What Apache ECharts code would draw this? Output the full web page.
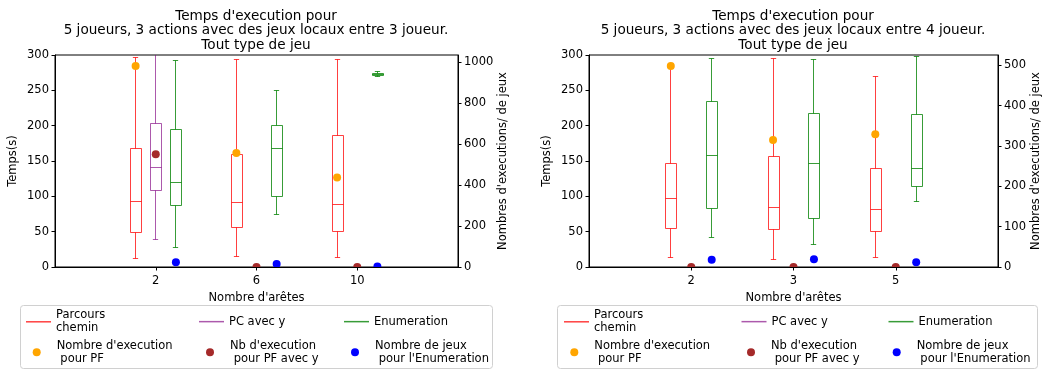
<!DOCTYPE html>
<html>
<head>
<meta charset="utf-8">
<script src="https://cdn.jsdelivr.net/npm/echarts@6.0.0/dist/echarts.min.js"></script>
<style>
html,body{margin:0;padding:0;background:#fff;}
#chart{width:1051px;height:371px;}
</style>
</head>
<body>
<div id="chart"></div>
<script>
// ---------- DATA ----------
const titleLeft = "Temps d'execution pour\n5 joueurs, 3 actions avec des jeux locaux entre 3 joueur.\nTout type de jeu";
const titleRight = "Temps d'execution pour\n5 joueurs, 3 actions avec des jeux locaux entre 4 joueur.\nTout type de jeu";
const categoriesLeft = ['2', '6', '10'];
const categoriesRight = ['2', '3', '5'];
// box stats: [low whisker, Q1, median, Q3, high whisker]
const parcoursLeft = [[11.8, 49.2, 93.2, 167, 297], [15.1, 56.3, 91.3, 159, 293], [13.7, 49.7, 89, 186, 293]];
const pcAvecYLeft = [[38.8, 108.4, 141.5, 202.6, 320], null, null];
const enumLeft = [[27, 87.1, 119.7, 194.5, 292], [73.8, 99.4, 167, 200.2, 249.4], [270, 271.2, 273, 274.5, 276]];
const nbExecPFLeft = [980, 556, 436];
const nbExecPFyLeft = [550, 0, 0];
const nbJeuxEnumLeft = [23, 15, 2];

const parcoursRight = [[12.8, 54.9, 96.5, 146.2, 285], [10.9, 53, 84.7, 157, 294.8], [13.7, 50.6, 81.4, 139.6, 270.2]];
const enumRight = [[42.1, 83.3, 157.6, 234.7, 294.8], [32.2, 68.1, 146.2, 216.7, 293], [93.2, 114.5, 138.7, 215.8, 297.7]];
const nbExecPFRight = [498, 315, 329];
const nbExecPFyRight = [0, 0, 0];
const nbJeuxEnumRight = [18, 19, 12];

const leftTicksTime = [0, 50, 100, 150, 200, 250, 300];
const leftTicksCount = [0, 200, 400, 600, 800, 1000];
const rightTicksCount = [0, 100, 200, 300, 400, 500];

const NAMES = {
  parcours: 'Parcours\nchemin',
  pc: 'PC avec y',
  enumr: 'Enumeration',
  pf: "Nombre d'execution\n pour PF",
  pfy: "Nb d'execution\n pour PF avec y",
  jeux: "Nombre de jeux\n pour l'Enumeration"
};
const COLORS = {
  parcours: 'rgba(255,0,0,0.75)',
  pc: 'rgba(128,0,128,0.65)',
  enumr: 'rgba(0,128,0,0.78)',
  pf: '#ffa500',
  pfy: '#a52a2a',
  jeux: '#0000ff'
};

// ---------- RENDERING ----------
const FONT = 'DejaVu Sans';
const FS = 11.5;
const OFFSET = 0.2;
const BOXW = 0.105;

function crisp(v) { return Math.round(v - 0.5) + 0.5; }

function boxRender(color) {
  return function (params, api) {
    const x = api.value(0);
    const pl = api.coord([x, api.value(1)]);
    const p1 = api.coord([x, api.value(2)]);
    const pm = api.coord([x, api.value(3)]);
    const p3 = api.coord([x, api.value(4)]);
    const ph = api.coord([x, api.value(5)]);
    const w = api.size([BOXW, 0])[0];
    const cx = crisp(pl[0]);
    const hw = w / 2, cw = w / 4;
    const st = { stroke: color, fill: null, lineWidth: 1 };
    const ln = (x1, y1, x2, y2) => ({ type: 'line', shape: { x1, y1, x2, y2 }, style: st });
    const yq1 = crisp(p1[1]), yq3 = crisp(p3[1]), ym = crisp(pm[1]), yl = crisp(pl[1]), yh = crisp(ph[1]);
    const bx = Math.round(cx - hw) + 0.5, bw = Math.round(w);
    return {
      type: 'group',
      children: [
        { type: 'rect', shape: { x: bx, y: yq3, width: bw, height: yq1 - yq3 }, style: st },
        ln(bx, ym, bx + bw, ym),
        ln(cx, yq3, cx, yh),
        ln(cx, yq1, cx, yl),
        ln(cx - cw, yh, cx + cw, yh),
        ln(cx - cw, yl, cx + cw, yl)
      ]
    };
  };
}

function dotRender(color) {
  return function (params, api) {
    const p = api.coord([api.value(0), api.value(1)]);
    return { type: 'circle', shape: { cx: p[0], cy: p[1], r: 4 }, style: { fill: color } };
  };
}

function boxData(stats, offset) {
  const out = [];
  stats.forEach((s, i) => { if (s) out.push([i + 1 + offset].concat(s)); });
  return out;
}
function dotData(vals, offset) {
  return vals.map((v, i) => [i + 1 + offset, v]);
}

function boxSeries(key, stats, offset, xi, yi) {
  return {
    type: 'custom', name: NAMES[key], xAxisIndex: xi, yAxisIndex: yi, clip: true,
    itemStyle: { color: COLORS[key] },
    encode: { x: 0, y: [1, 2, 3, 4, 5] },
    renderItem: boxRender(COLORS[key]),
    data: boxData(stats, offset), z: 3
  };
}
function dotSeries(key, vals, offset, xi, yi) {
  return {
    type: 'custom', name: NAMES[key], xAxisIndex: xi, yAxisIndex: yi, clip: true,
    itemStyle: { color: COLORS[key] },
    encode: { x: 0, y: 1 },
    renderItem: dotRender(COLORS[key]),
    data: dotData(vals, offset), z: 4
  };
}

const axisCommon = {
  axisLine: { show: true, onZero: false, lineStyle: { color: '#000', width: 1 } },
  axisTick: { show: true, length: 3.5, inside: false, lineStyle: { color: '#000', width: 1 } },
  axisLabel: { color: '#000', fontFamily: FONT, fontSize: FS },
  splitLine: { show: false },
  nameTextStyle: { color: '#000', fontFamily: FONT, fontSize: FS }
};

function xAxisDef(gridIndex, cats) {
  return Object.assign({}, axisCommon, {
    type: 'value', gridIndex, min: 0, max: 4,
    name: "Nombre d'arêtes", nameLocation: 'middle', nameGap: 21,
    axisTick: Object.assign({}, axisCommon.axisTick, { customValues: [1, 2, 3] }),
    axisLabel: Object.assign({}, axisCommon.axisLabel, {
      margin: 8, customValues: [1, 2, 3],
      formatter: v => cats[Math.round(v) - 1] || ''
    })
  });
}
function yTimeAxis(gridIndex) {
  return Object.assign({}, axisCommon, {
    type: 'value', gridIndex, position: 'left', min: 0, max: 300,
    name: 'Temps(s)', nameLocation: 'middle', nameGap: 36,
    axisTick: Object.assign({}, axisCommon.axisTick, { customValues: leftTicksTime }),
    axisLabel: Object.assign({}, axisCommon.axisLabel, { margin: 6, customValues: leftTicksTime, formatter: v => String(v) })
  });
}
function yCountAxis(gridIndex, max, ticks, gap) {
  return Object.assign({}, axisCommon, {
    type: 'value', gridIndex, position: 'right', min: 0, max,
    name: "Nombres d'executions/ de jeux", nameLocation: 'middle', nameGap: gap,
    axisTick: Object.assign({}, axisCommon.axisTick, { customValues: ticks }),
    axisLabel: Object.assign({}, axisCommon.axisLabel, { margin: 6, customValues: ticks, formatter: v => String(v) })
  });
}

const legendText = { color: '#000', fontFamily: FONT, fontSize: FS, lineHeight: 13.3 };
function lineLegend(key, left, top) {
  return {
    left, top, padding: 0, itemGap: 0, selectedMode: false, z: 10,
    itemWidth: 25, itemHeight: 1.5, textStyle: legendText,
    data: [{ name: NAMES[key], icon: 'rect', itemStyle: { color: COLORS[key], borderWidth: 0 } }]
  };
}
function dotLegend(key, center, top) {
  return {
    left: center - 4, top, padding: 0, itemGap: 0, selectedMode: false, z: 10,
    itemWidth: 30, itemHeight: 8, textStyle: legendText,
    data: [{ name: NAMES[key], icon: 'circle', itemStyle: { color: COLORS[key], borderWidth: 0 } }]
  };
}

const titleStyle = { fill: '#000', font: '13.6px "DejaVu Sans"', textAlign: 'center', lineHeight: 14.6 };

const option = {
  animation: false,
  backgroundColor: '#fff',
  grid: [
    { left: 55, top: 55, width: 403, height: 212, show: true, borderColor: '#000', borderWidth: 1, backgroundColor: 'transparent', outerBoundsMode: 'none', containLabel: false },
    { left: 589, top: 55, width: 409, height: 212, show: true, borderColor: '#000', borderWidth: 1, backgroundColor: 'transparent', outerBoundsMode: 'none', containLabel: false }
  ],
  xAxis: [xAxisDef(0, categoriesLeft), xAxisDef(1, categoriesRight)],
  yAxis: [
    yTimeAxis(0),
    yCountAxis(0, 1034, leftTicksCount, 38),
    yTimeAxis(1),
    yCountAxis(1, 525.5, rightTicksCount, 32)
  ],
  graphic: [
    { type: 'text', x: 256, y: 9, z: 1, style: Object.assign({ text: titleLeft }, titleStyle) },
    { type: 'text', x: 793, y: 9, z: 1, style: Object.assign({ text: titleRight }, titleStyle) },
    { type: 'rect', z: 0, shape: { x: 20.5, y: 305.5, width: 472, height: 63, r: 3 }, style: { fill: '#fff', stroke: '#d0d0d0', lineWidth: 1 } },
    { type: 'rect', z: 0, shape: { x: 557.5, y: 305.5, width: 480, height: 63, r: 3 }, style: { fill: '#fff', stroke: '#d0d0d0', lineWidth: 1 } }
  ],
  legend: [
    lineLegend('parcours', 26, 308.5), lineLegend('pc', 199, 315), lineLegend('enumr', 344, 315),
    dotLegend('pf', 36.7, 339), dotLegend('pfy', 210, 339), dotLegend('jeux', 355, 339),
    lineLegend('parcours', 564, 308.5), lineLegend('pc', 741.5, 315), lineLegend('enumr', 888.5, 315),
    dotLegend('pf', 574.3, 339), dotLegend('pfy', 751, 339), dotLegend('jeux', 896.7, 339)
  ],
  series: [
    boxSeries('parcours', parcoursLeft, -OFFSET, 0, 0),
    boxSeries('pc', pcAvecYLeft, 0, 0, 0),
    boxSeries('enumr', enumLeft, OFFSET, 0, 0),
    dotSeries('pf', nbExecPFLeft, -OFFSET, 0, 1),
    dotSeries('pfy', nbExecPFyLeft, 0, 0, 1),
    dotSeries('jeux', nbJeuxEnumLeft, OFFSET, 0, 1),
    boxSeries('parcours', parcoursRight, -OFFSET, 1, 2),
    boxSeries('enumr', enumRight, OFFSET, 1, 2),
    dotSeries('pf', nbExecPFRight, -OFFSET, 1, 3),
    dotSeries('pfy', nbExecPFyRight, 0, 1, 3),
    dotSeries('jeux', nbJeuxEnumRight, OFFSET, 1, 3)
  ]
};

const chart = echarts.init(document.getElementById('chart'), null, { renderer: 'canvas' });
chart.setOption(option);
</script>
</body>
</html>
